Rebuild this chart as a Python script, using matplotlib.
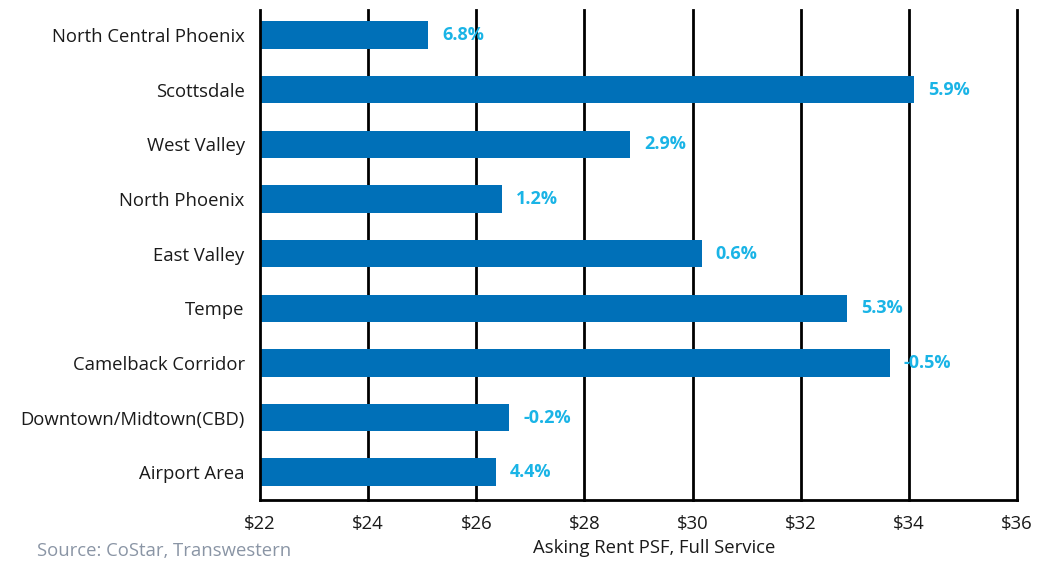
import matplotlib
matplotlib.use("Agg")
import matplotlib.pyplot as plt
from matplotlib import font_manager

# Office submarkets, asking rent and year-over-year change
submarkets = [
    "North Central Phoenix", "Scottsdale", "West Valley", "North Phoenix",
    "East Valley", "Tempe", "Camelback Corridor", "Downtown/Midtown(CBD)",
    "Airport Area",
]
asking_rent = [25.11, 34.10, 28.84, 26.48, 30.17, 32.86, 33.65, 26.61, 26.36]
yoy_change = ["6.8%", "5.9%", "2.9%", "1.2%", "0.6%", "5.3%", "-0.5%", "-0.2%", "4.4%"]
x_ticks = [22, 24, 26, 28, 30, 32, 34, 36]
x_tick_labels = ["$22", "$24", "$26", "$28", "$30", "$32", "$34", "$36"]

plt.rcParams["font.family"] = ["Open Sans", "DejaVu Sans"]

BAR_COLOR = "#0070b8"
LABEL_COLOR = "#1ab4e6"
TEXT_SIZE = 13.3

# pick a regular-width bold Open Sans face for the value labels
bold_file = None
for f in font_manager.fontManager.ttflist:
    if f.name == "Open Sans" and f.weight in (700, "bold") and f.stretch in ("normal", 500):
        bold_file = f.fname
        break
if bold_file:
    label_font = font_manager.FontProperties(fname=bold_file, size=13)
else:
    label_font = font_manager.FontProperties(family=["Open Sans", "DejaVu Sans"],
                                             weight="bold", stretch="normal", size=13)

fig = plt.figure(figsize=(10.40, 5.61), dpi=100)
ax = fig.add_axes([260 / 1040, 61 / 561, (1017 - 260) / 1040, (500 - 10) / 561])

ypos = list(range(len(submarkets)))
left = x_ticks[0]
ax.barh(ypos, [v - left for v in asking_rent], left=left, height=0.5,
        color=BAR_COLOR, zorder=3)

for y, v, lab in zip(ypos, asking_rent, yoy_change):
    ax.annotate(lab, xy=(v, y), xytext=(14, 0), textcoords="offset pixels",
                va="center", ha="left", fontproperties=label_font,
                color=LABEL_COLOR, zorder=4)

ax.set_xlim(x_ticks[0], x_ticks[-1])
ax.set_ylim(8.51, -0.46)
ax.set_xticks(x_ticks)
ax.set_xticklabels(x_tick_labels, fontsize=TEXT_SIZE)
ax.set_yticks(ypos)
ax.set_yticklabels(submarkets, fontsize=TEXT_SIZE, va="bottom")
for t in ax.get_yticklabels():
    t.set_verticalalignment("center_baseline")
ax.tick_params(axis="both", length=0, colors="#1a1a1a")
ax.tick_params(axis="x", pad=11)
ax.tick_params(axis="y", pad=11)

for x in x_ticks[1:]:
    ax.axvline(x, color="black", linewidth=2, zorder=1, clip_on=False)

for s in ["top", "right"]:
    ax.spines[s].set_visible(False)
for s in ["left", "bottom"]:
    ax.spines[s].set_linewidth(2)
    ax.spines[s].set_color("black")
    ax.spines[s].set_zorder(5)

fig.text(654 / 1040, 1 - 548 / 561, "Asking Rent PSF, Full Service",
         ha="center", va="center", fontsize=TEXT_SIZE, color="#1a1a1a")
fig.text(37 / 1040, 1 - 551 / 561, "Source: CoStar, Transwestern",
         ha="left", va="center", fontsize=TEXT_SIZE, color="#8a95a5")

fig.savefig("out.png", dpi=100)
